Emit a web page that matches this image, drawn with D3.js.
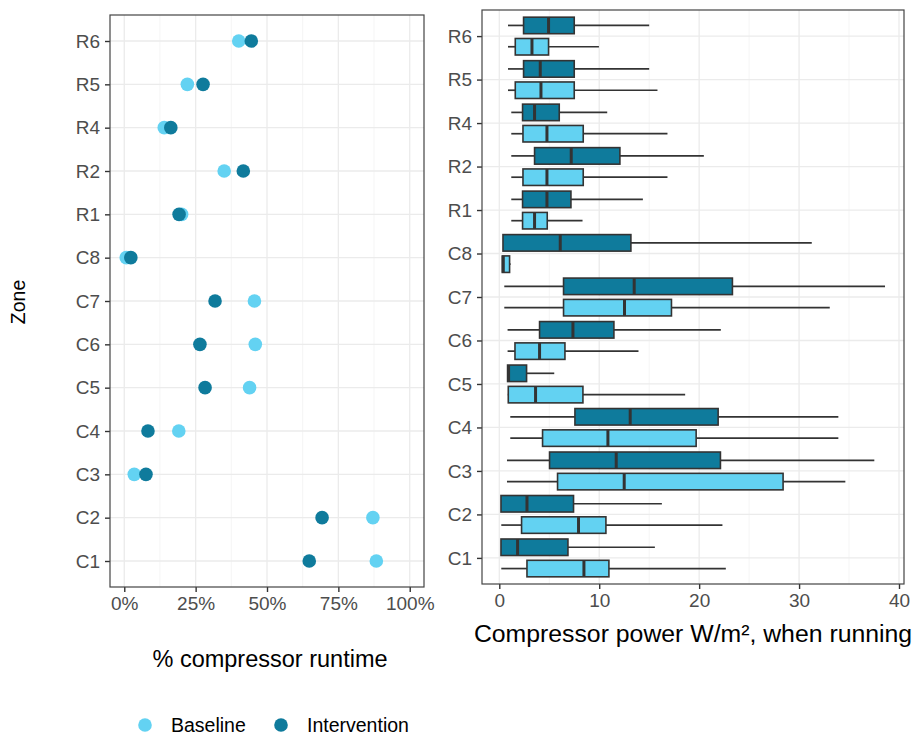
<!DOCTYPE html>
<html>
<head>
<meta charset="utf-8">
<script src="https://cdn.jsdelivr.net/npm/d3@7"></script>
<style>
  body { margin: 0; background: #fff; }
  text { font-family: "Liberation Sans", Arial, sans-serif; }
</style>
</head>
<body>
<svg id="chart" width="920" height="736"></svg>
<script>
// zones, bottom to top
var zones = ["C1", "C2", "C3", "C4", "C5", "C6", "C7", "C8", "R1", "R2", "R4", "R5", "R6"];
var seriesNames = ["Baseline", "Intervention"];
var seriesColors = ["#63d2f2", "#0f7b9c"];

// % compressor runtime (fraction)
var runtimeBaseline = [0.883, 0.871, 0.035, 0.191, 0.439, 0.459, 0.456, 0.007, 0.201, 0.350, 0.140, 0.221, 0.401];
var runtimeIntervention = [0.648, 0.693, 0.076, 0.083, 0.283, 0.265, 0.318, 0.023, 0.192, 0.417, 0.163, 0.276, 0.445];

// compressor power boxplots: [low whisker, q1, median, q3, high whisker]
var powerBaseline = [
	[0.2, 2.77, 8.47, 10.97, 22.67],
	[0.2, 2.23, 7.93, 10.67, 22.33],
	[0.77, 5.83, 12.5, 28.4, 34.63],
	[1.1, 4.33, 10.87, 19.7, 33.93],
	[0.85, 0.9, 3.63, 8.37, 18.6],
	[0.83, 1.57, 4.03, 6.57, 13.93],
	[0.5, 6.43, 12.53, 17.23, 33.07],
	[0.3, 0.3, 0.4, 1.03, 1.13],
	[1.2, 2.33, 3.53, 4.8, 8.33],
	[1.2, 2.37, 4.77, 8.4, 16.83],
	[1.2, 2.37, 4.77, 8.4, 16.83],
	[0.87, 1.6, 4.17, 7.5, 15.83],
	[0.87, 1.6, 3.27, 4.93, 9.97]
];
var powerIntervention = [
	[0.17, 0.17, 1.83, 6.87, 15.57],
	[0.17, 0.17, 2.77, 7.43, 16.27],
	[0.77, 5.03, 11.7, 22.13, 37.53],
	[1.1, 7.57, 13.1, 21.9, 33.93],
	[0.83, 0.83, 0.93, 2.73, 5.5],
	[0.83, 4.03, 7.37, 11.47, 22.17],
	[0.5, 6.43, 13.5, 23.33, 38.6],
	[0.37, 0.37, 6.1, 13.17, 31.27],
	[1.2, 2.33, 4.77, 7.17, 14.37],
	[1.2, 3.53, 7.2, 12.07, 20.47],
	[1.2, 2.33, 3.53, 6.0, 10.8],
	[0.87, 2.43, 4.1, 7.5, 15.0],
	[0.87, 2.43, 4.93, 7.5, 15.0]
];

var pctTicks = [0, 0.25, 0.5, 0.75, 1];
var powerTicks = [0, 10, 20, 30, 40];

var svg = d3.select("#chart");
var gridMajor = "#ebebeb";
var tickText = "#4d4d4d";

function drawPanel(x, y, minorTicks, majorTicks, fmt) {
	var x0 = x.range()[0], x1 = x.range()[1];
	var yBottom = y.range()[0], yTop = y.range()[1];
	var g = svg.append("g");

	g.selectAll(".minor").data(minorTicks).enter().append("line")
		.attr("x1", d => x(d)).attr("x2", d => x(d))
		.attr("y1", yTop).attr("y2", yBottom)
		.attr("stroke", "#f3f3f3").attr("stroke-width", 0.8);
	g.selectAll(".vmajor").data(majorTicks).enter().append("line")
		.attr("x1", d => x(d)).attr("x2", d => x(d))
		.attr("y1", yTop).attr("y2", yBottom)
		.attr("stroke", gridMajor).attr("stroke-width", 1.3);
	g.selectAll(".hmajor").data(zones).enter().append("line")
		.attr("x1", x0).attr("x2", x1)
		.attr("y1", d => y(d)).attr("y2", d => y(d))
		.attr("stroke", gridMajor).attr("stroke-width", 1.3);

	// axes
	var xAxis = svg.append("g")
		.attr("transform", "translate(0," + yBottom + ")")
		.call(d3.axisBottom(x).tickValues(majorTicks).tickFormat(fmt).tickSize(5).tickPadding(5));
	var yAxis = svg.append("g")
		.attr("transform", "translate(" + x0 + ",0)")
		.call(d3.axisLeft(y).tickSize(5).tickPadding(5));
	[xAxis, yAxis].forEach(a => {
		a.select(".domain").remove();
		a.selectAll(".tick line").attr("stroke", "#333").attr("stroke-width", 1.4);
		a.selectAll(".tick text").attr("fill", tickText).attr("font-size", "19px")
			.attr("font-family", "Liberation Sans, Arial, sans-serif");
	});
	return g;
}

function border(x, y) {
	svg.append("rect")
		.attr("x", x.range()[0]).attr("y", y.range()[1])
		.attr("width", x.range()[1] - x.range()[0])
		.attr("height", y.range()[0] - y.range()[1])
		.attr("fill", "none").attr("stroke", "#444").attr("stroke-width", 1.2);
}

// ---- left panel: runtime dots
var xPct = d3.scaleLinear().domain([-0.05, 1.05]).range([110, 424]);
var yLeft = d3.scalePoint().domain(zones).range([587, 15]).padding(0.6);
drawPanel(xPct, yLeft, [0.125, 0.375, 0.625, 0.875], pctTicks, d3.format(".0%"));

[runtimeBaseline, runtimeIntervention].forEach((vals, s) => {
	svg.append("g").selectAll("circle")
		.data(zones).enter().append("circle")
		.attr("cx", (d, i) => xPct(vals[i]))
		.attr("cy", d => yLeft(d))
		.attr("r", 6.8)
		.attr("fill", seriesColors[s]);
});
border(xPct, yLeft);

// ---- right panel: compressor power boxplots
var xPow = d3.scaleLinear().domain([-1.73, 40.5]).range([482, 904]);
var yRight = d3.scalePoint().domain(zones).range([584, 10]).padding(0.6);
drawPanel(xPow, yRight, [5, 15, 25, 35], powerTicks, d3.format("d"));

var step = yRight.step();
var boxH = step * 0.38;
[powerBaseline, powerIntervention].forEach((stats, s) => {
	var off = s === 0 ? step * 0.245 : -step * 0.245;
	var g = svg.append("g").selectAll("g")
		.data(zones).enter().append("g");
	g.append("line")
		.attr("x1", (d, i) => xPow(stats[i][0])).attr("x2", (d, i) => xPow(stats[i][1]))
		.attr("y1", d => yRight(d) + off).attr("y2", d => yRight(d) + off)
		.attr("stroke", "#333").attr("stroke-width", 1.7);
	g.append("line")
		.attr("x1", (d, i) => xPow(stats[i][3])).attr("x2", (d, i) => xPow(stats[i][4]))
		.attr("y1", d => yRight(d) + off).attr("y2", d => yRight(d) + off)
		.attr("stroke", "#333").attr("stroke-width", 1.7);
	g.append("rect")
		.attr("x", (d, i) => xPow(stats[i][1]))
		.attr("width", (d, i) => xPow(stats[i][3]) - xPow(stats[i][1]))
		.attr("y", d => yRight(d) + off - boxH / 2)
		.attr("height", boxH)
		.attr("fill", seriesColors[s])
		.attr("stroke", "#333").attr("stroke-width", 1.6);
	g.append("line")
		.attr("x1", (d, i) => xPow(stats[i][2])).attr("x2", (d, i) => xPow(stats[i][2]))
		.attr("y1", d => yRight(d) + off - boxH / 2).attr("y2", d => yRight(d) + off + boxH / 2)
		.attr("stroke", "#333").attr("stroke-width", 3);
});
border(xPow, yRight);

// ---- titles
svg.append("text")
	.attr("transform", "translate(25,302) rotate(-90)")
	.attr("text-anchor", "middle")
	.attr("font-size", "19.5px")
	.text("Zone");
svg.append("text")
	.attr("x", 270).attr("y", 667)
	.attr("text-anchor", "middle")
	.attr("font-size", "23.5px")
	.text("% compressor runtime");
svg.append("text")
	.attr("x", 693).attr("y", 642)
	.attr("text-anchor", "middle")
	.attr("font-size", "24.8px")
	.text("Compressor power W/m², when running");

// ---- legend
var legend = svg.append("g").selectAll("g")
	.data(seriesNames).enter().append("g")
	.attr("transform", (d, i) => "translate(" + [145, 281][i] + ",725)");
legend.append("circle")
	.attr("r", 6.8)
	.attr("fill", (d, i) => seriesColors[i]);
legend.append("text")
	.attr("x", 26).attr("y", 7)
	.attr("font-size", "19.5px")
	.text(d => d);
</script>
</body>
</html>
